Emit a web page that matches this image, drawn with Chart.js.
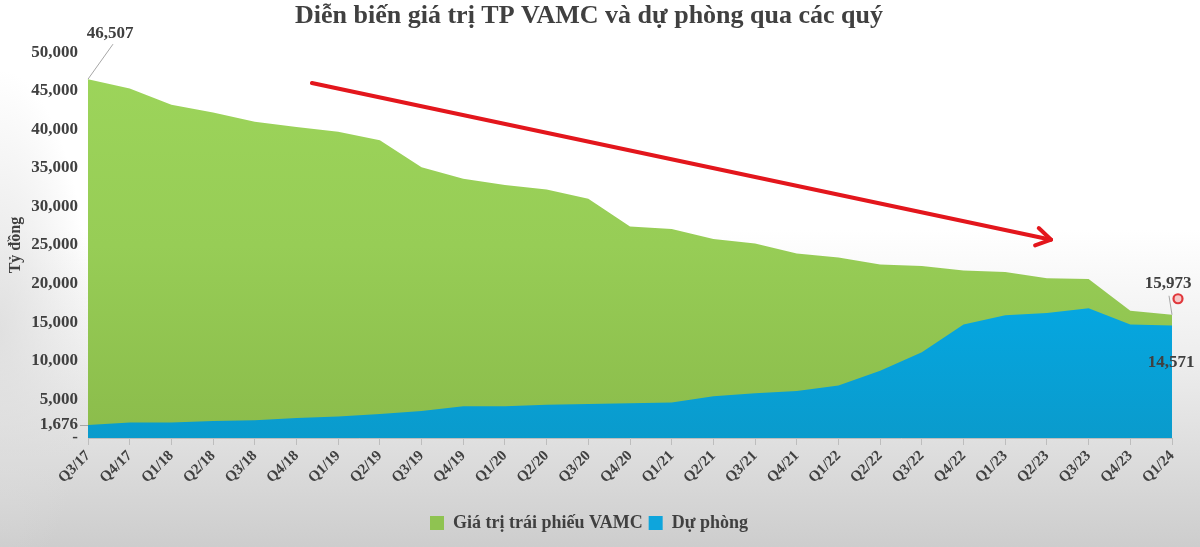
<!DOCTYPE html>
<html>
<head>
<meta charset="utf-8">
<script src="https://cdn.jsdelivr.net/npm/chart.js@4.4.1/dist/chart.umd.min.js"></script>
<style>
  html, body { margin: 0; padding: 0; }
  body {
    width: 1200px; height: 547px; overflow: hidden;
    background:
      radial-gradient(ellipse 90px 260px at 0px 330px, rgba(220,220,220,0.8), rgba(220,220,220,0) 100%),
      linear-gradient(to bottom, #ffffff 0%, #ffffff 42%, #eeeeee 65%, #e0e0e0 80%, #cdcdcd 100%);
  }
  #wrap { position: relative; width: 1200px; height: 547px; }
</style>
</head>
<body>
<div id="wrap"><canvas id="c" width="1200" height="547"></canvas></div>
<script>
const categories = ['Q3/17','Q4/17','Q1/18','Q2/18','Q3/18','Q4/18','Q1/19','Q2/19','Q3/19','Q4/19',
  'Q1/20','Q2/20','Q3/20','Q4/20','Q1/21','Q2/21','Q3/21','Q4/21','Q1/22','Q2/22',
  'Q3/22','Q4/22','Q1/23','Q2/23','Q3/23','Q4/23','Q1/24'];
const bondValue = [46507, 45300, 43200, 42200, 41000, 40300, 39700, 38600, 35100, 33600,
  32800, 32200, 31000, 27400, 27100, 25800, 25200, 23900, 23400, 22500,
  22300, 21700, 21500, 20700, 20600, 16500, 15973];
const provision = [1676, 2000, 2000, 2200, 2300, 2600, 2800, 3100, 3500, 4100,
  4100, 4300, 4400, 4500, 4600, 5400, 5800, 6100, 6800, 8700,
  11100, 14700, 15900, 16200, 16800, 14700, 14571];
const yTickValues = [0, 1676, 5000, 10000, 15000, 20000, 25000, 30000, 35000, 40000, 45000, 50000];
const seriesNames = ['Giá trị trái phiếu VAMC', 'Dự phòng'];
const titleText = 'Diễn biến giá trị TP VAMC và dự phòng qua các quý';
const yAxisTitle = 'Tỷ đồng';
// trend arrow, in data units (category index, value)
const arrowFrom = [5.37, 46000];
const arrowTo = [23.1, 25700];

const SERIF = "'Liberation Serif', 'DejaVu Serif', serif";
const TXT = '#404040';

function fmt(v) { return v === 0 ? '-' : v.toLocaleString('en-US'); }

function grad(ctx, top, mid, bottom) {
  const ca = ctx.chart.chartArea;
  if (!ca) return top;
  const g = ctx.chart.ctx.createLinearGradient(0, ca.top, 0, ca.bottom);
  g.addColorStop(0, top);
  g.addColorStop(0.5, mid);
  g.addColorStop(1, bottom);
  return g;
}

const annot = {
  id: 'annot',
  afterDatasetsDraw(chart) {
    const c = chart.ctx, xs = chart.scales.x, ys = chart.scales.y;
    c.save();
    // arrow
    const x1 = xs.getPixelForValue(arrowFrom[0]), y1 = ys.getPixelForValue(arrowFrom[1]);
    const x2 = xs.getPixelForValue(arrowTo[0]), y2 = ys.getPixelForValue(arrowTo[1]);
    c.strokeStyle = '#e3161c'; c.lineWidth = 4; c.lineCap = 'round'; c.lineJoin = 'round';
    c.beginPath(); c.moveTo(x1, y1); c.lineTo(x2, y2); c.stroke();
    const ang = Math.atan2(y2 - y1, x2 - x1), L = 17, a = 0.55;
    c.beginPath();
    c.moveTo(x2 - L * Math.cos(ang - a), y2 - L * Math.sin(ang - a));
    c.lineTo(x2, y2);
    c.lineTo(x2 - L * Math.cos(ang + a), y2 - L * Math.sin(ang + a));
    c.stroke();

    // data labels
    c.font = 'bold 17px ' + SERIF; c.fillStyle = TXT; c.textAlign = 'center'; c.textBaseline = 'middle';
    c.strokeStyle = '#a6a6a6'; c.lineWidth = 1; c.lineCap = 'butt';
    const n = categories.length - 1;
    const px0 = xs.getPixelForValue(0), py0 = ys.getPixelForValue(bondValue[0]);
    c.beginPath(); c.moveTo(px0, py0); c.lineTo(px0 + 25, py0 - 35); c.stroke();
    c.fillText(fmt(bondValue[0]), px0 + 22, py0 - 46);
    const pxN = xs.getPixelForValue(n), pyN = ys.getPixelForValue(bondValue[n]);
    c.beginPath(); c.moveTo(pxN, pyN); c.lineTo(pxN - 3, pyN - 19); c.stroke();
    c.fillText(fmt(bondValue[n]), pxN - 4, pyN - 31);
    const pyB = ys.getPixelForValue(provision[n]);
    c.fillText(fmt(provision[n]), pxN - 1, pyB + 37);
    // small red ring highlight
    c.beginPath(); c.arc(pxN + 6, pyN - 16, 4.5, 0, Math.PI * 2);
    c.fillStyle = '#f6c9c9'; c.fill();
    c.strokeStyle = '#e0383c'; c.lineWidth = 2.2; c.stroke();
    c.restore();
  }
};

new Chart(document.getElementById('c'), {
  type: 'line',
  data: {
    labels: categories,
    datasets: [
      {
        label: seriesNames[0], data: bondValue, order: 1,
        fill: 'origin', borderWidth: 0, pointRadius: 0, tension: 0,
        borderColor: 'rgba(0,0,0,0)',
        backgroundColor: (ctx) => grad(ctx, '#9dd55b', '#97cd56', '#8bbc4b')
      },
      {
        label: seriesNames[1], data: provision, order: 0,
        fill: 'origin', borderWidth: 0, pointRadius: 0, tension: 0,
        borderColor: 'rgba(0,0,0,0)',
        backgroundColor: (ctx) => grad(ctx, '#00b4f0', '#03acea', '#0a9bcc')
      }
    ]
  },
  options: {
    responsive: false,
    animation: false,
    events: [],
    layout: { padding: { left: 6, right: 28, top: 0, bottom: 5 } },
    plugins: {
      title: {
        display: true, text: titleText, color: TXT,
        font: { family: SERIF, size: 26, weight: 'bold' },
        padding: { top: 1, bottom: 20 }
      },
      legend: {
        display: true, position: 'bottom',
        labels: {
          color: TXT, font: { family: SERIF, size: 18, weight: 'bold' },
          boxWidth: 14, boxHeight: 14, padding: 6,
          sort: (a, b) => a.datasetIndex - b.datasetIndex,
          generateLabels(chart) {
            return chart.data.datasets.map((d, i) => ({
              text: d.label, datasetIndex: i,
              fillStyle: i === 0 ? '#8fc351' : '#0ea5dc',
              strokeStyle: 'rgba(0,0,0,0)', lineWidth: 0, hidden: false,
              fontColor: TXT
            }));
          }
        }
      },
      tooltip: { enabled: false }
    },
    scales: {
      x: {
        offset: false,
        afterFit(scale) { scale.height = 70; },
        grid: { display: true, drawOnChartArea: false, tickLength: 7, color: '#bdbdbd' },
        border: { display: true, color: '#bdbdbd' },
        ticks: {
          autoSkip: false, maxRotation: 45, minRotation: 45, padding: 2,
          color: TXT, font: { family: SERIF, size: 15, weight: 'bold' }
        }
      },
      y: {
        min: 0, max: 50000,
        afterBuildTicks(scale) { scale.ticks = yTickValues.map(v => ({ value: v })); },
        afterFit(scale) { scale.width = 82; },
        grid: {
          display: true, drawOnChartArea: false, tickLength: 8,
          color: (ctx) => (ctx.tick && ctx.tick.value === 1676) ? '#a6a6a6' : 'rgba(0,0,0,0)'
        },
        border: { display: false },
        title: {
          display: true, text: yAxisTitle, color: TXT,
          font: { family: SERIF, size: 16, weight: 'bold' }, padding: 0
        },
        ticks: {
          autoSkip: false, padding: 2, color: TXT,
          font: { family: SERIF, size: 17, weight: 'bold' },
          callback: (v) => fmt(v)
        }
      }
    }
  },
  plugins: [annot]
});
</script>
</body>
</html>
